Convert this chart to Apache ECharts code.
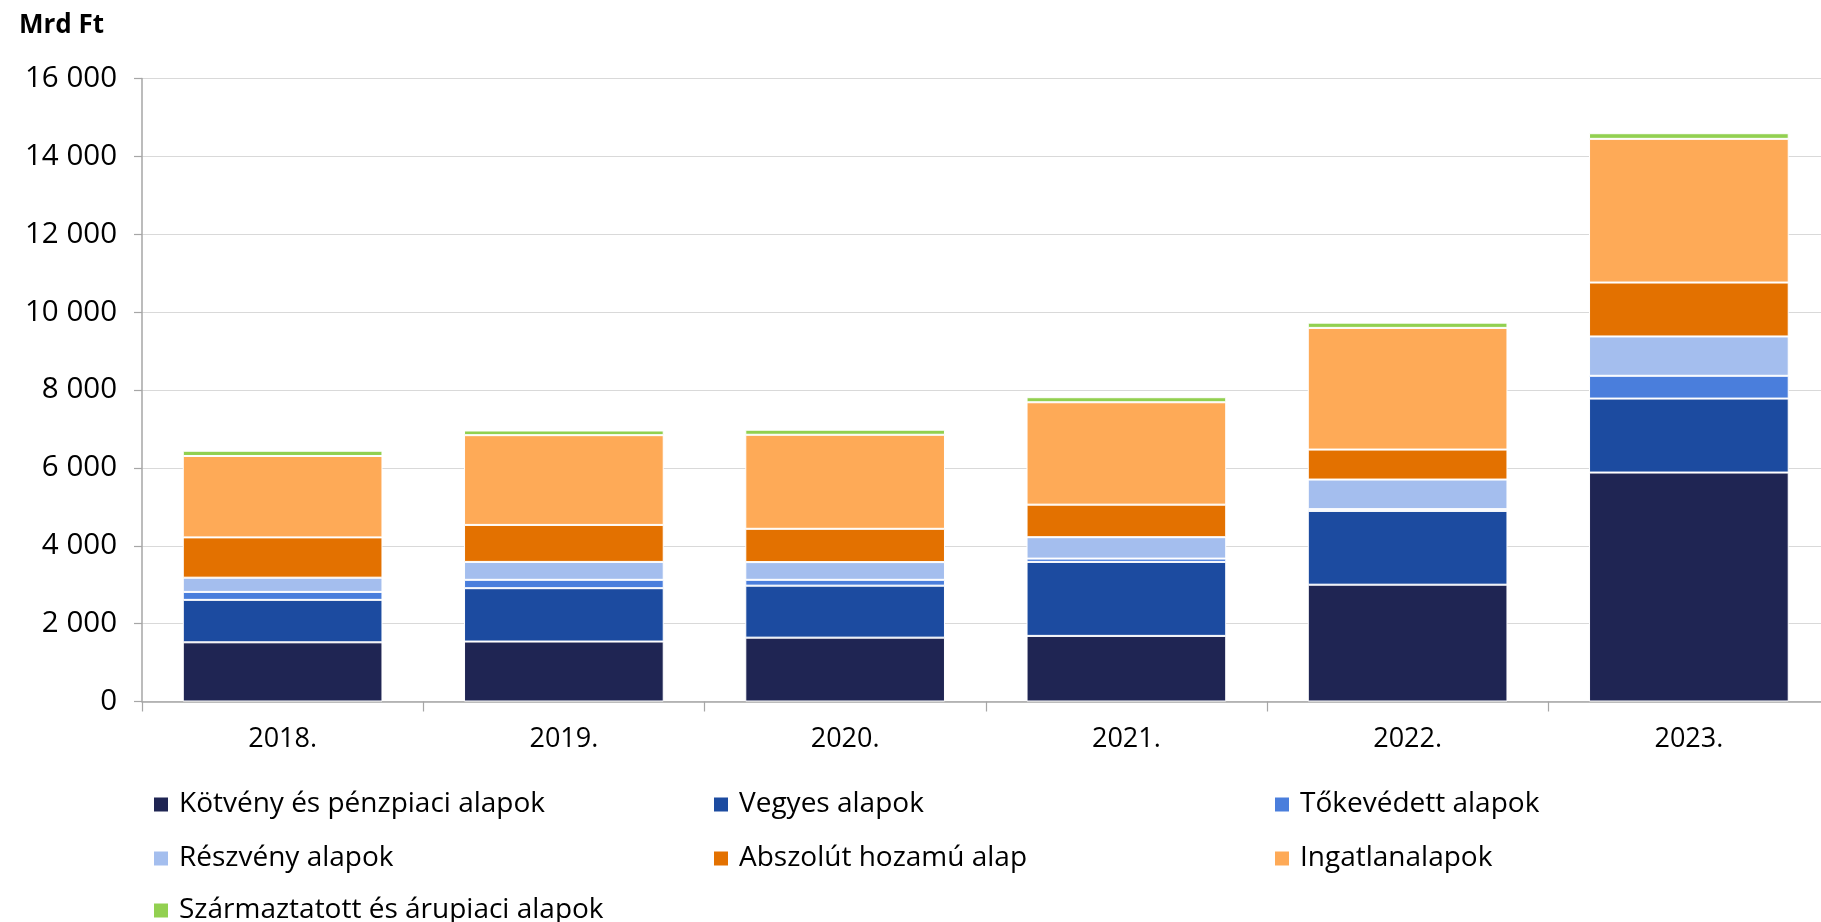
<!DOCTYPE html>
<html>
<head>
<meta charset="utf-8">
<style>
html,body{margin:0;padding:0;background:#fff;}
#chart{width:1821px;height:922px;}
</style>
<script src="https://cdn.jsdelivr.net/npm/echarts@6/dist/echarts.min.js"></script>
</head>
<body>
<div id="chart"></div>
<script>
const categories = ['2018.', '2019.', '2020.', '2021.', '2022.', '2023.'];
const seriesNames = [
  'Kötvény és pénzpiaci alapok',
  'Vegyes alapok',
  'Tőkevédett alapok',
  'Részvény alapok',
  'Abszolút hozamú alap',
  'Ingatlanalapok',
  'Származtatott és árupiaci alapok'
];
const kotveny = [1520, 1540, 1640, 1685, 3000, 5880];
const vegyes = [1090, 1370, 1335, 1900, 1895, 1900];
const tokevedett = [205, 215, 150, 85, 45, 585];
const reszveny = [365, 460, 455, 550, 760, 1010];
const abszolut = [1035, 950, 855, 835, 770, 1385];
const ingatlan = [2090, 2305, 2415, 2630, 3125, 3690];
const szarmaztatott = [135, 120, 130, 130, 135, 145];
const yTicks = { min: 0, max: 16000, interval: 2000 };

const colors = ['#1F2553', '#1C4BA0', '#4A7EDC', '#A4BEEE', '#E37100', '#FEAA57', '#92D050'];
const values = [kotveny, vegyes, tokevedett, reszveny, abszolut, ingatlan, szarmaztatott];
const FONT = 'Open Sans';

function fmt(v) { return String(v).replace(/\B(?=(\d{3})+(?!\d))/g, ' '); }

const series = seriesNames.map((name, i) => ({
  name: name,
  type: 'bar',
  stack: 'total',
  barWidth: '71%',
  data: values[i],
  itemStyle: { color: colors[i], borderColor: '#ffffff', borderWidth: 1 },
  emphasis: { disabled: true }
}));

// legend grid: 3 columns x 3 rows
const legendCols = [152, 712, 1273];
const legendRows = [801, 855, 907];
const legends = seriesNames.map((name, i) => ({
  orient: 'horizontal',
  left: legendCols[i % 3],
  top: legendRows[Math.floor(i / 3)] - 10.5,
  padding: 0,
  icon: 'rect',
  itemWidth: 16,
  itemHeight: 16,
  data: [name],
  selectedMode: false,
  textStyle: { fontFamily: FONT, fontSize: 28, color: '#000', lineHeight: 21, padding: [0, 0, 0, 5] }
}));

const chart = echarts.init(document.getElementById('chart'), null, { renderer: 'canvas' });
chart.setOption({
  animation: false,
  color: colors,
  title: {
    text: 'Mrd Ft',
    left: 14,
    top: 8,
    textStyle: { fontFamily: FONT, fontSize: 26, fontWeight: 'bold', color: '#000' }
  },
  legend: legends,
  grid: { left: 142, right: -8.5, top: 78.5, bottom: 220.5, containLabel: false, outerBoundsMode: 'none' },
  xAxis: {
    type: 'category',
    data: categories,
    boundaryGap: true,
    axisLine: { show: true, lineStyle: { color: '#A6A6A6', width: 1.5 } },
    axisTick: { show: true, length: 10, lineStyle: { color: '#A6A6A6', width: 1.2 } },
    axisLabel: { margin: 24, fontFamily: FONT, fontSize: 27, color: '#000' }
  },
  yAxis: {
    type: 'value',
    min: yTicks.min,
    max: yTicks.max,
    interval: yTicks.interval,
    axisLine: { show: true, lineStyle: { color: '#A6A6A6', width: 1.5 } },
    axisTick: { show: true, length: 8, lineStyle: { color: '#A6A6A6', width: 1.2 } },
    splitLine: { show: true, lineStyle: { color: '#D9D9D9', width: 1.2 } },
    axisLabel: { margin: 25, fontFamily: FONT, fontSize: 29.5, color: '#000', formatter: fmt }
  },
  series: series
});
</script>
</body>
</html>
